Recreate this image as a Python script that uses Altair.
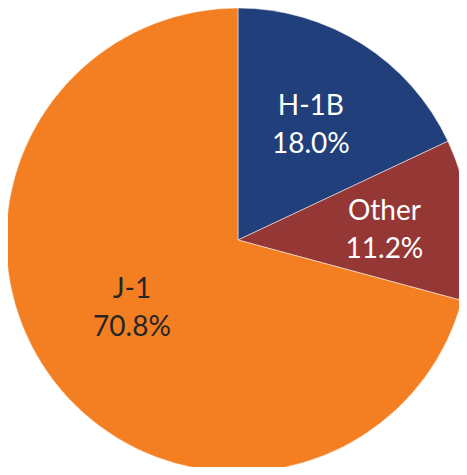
import altair as alt
import pandas as pd

categories = ["H-1B", "Other", "J-1"]
shares = [18.0, 11.2, 70.8]
colors = ["#213F7A", "#953735", "#F37F22"]
text_colors = ["#FFFFFF", "#FFFFFF", "#262626"]

df = pd.DataFrame({
    "visa": categories,
    "share": shares,
    "order": list(range(len(categories))),
})

base = alt.Chart(df).transform_calculate(
    label="datum.visa + '\\n' + format(datum.share, '.1f') + '%'"
).transform_stack(
    stack="share", groupby=[], as_=["s0", "s1"], sort=[alt.SortField("order")]
).transform_calculate(
    theta0="datum.s0 / 100 * 2 * PI",
    theta1="datum.s1 / 100 * 2 * PI",
)

pie = base.mark_arc(stroke="white", strokeWidth=0.5).encode(
    theta=alt.Theta("theta0:Q", scale=None),
    theta2="theta1:Q",
    color=alt.Color("visa:N", scale=alt.Scale(domain=categories, range=colors), legend=None),
    x=alt.value(230),
    y=alt.value(232),
    radius=alt.value(232),
)

def label_layer(name, r, dx, dy):
    return base.transform_filter(alt.datum.visa == name).transform_calculate(
        mid="(datum.theta0 + datum.theta1) / 2"
    ).mark_text(
        font="Lato", fontSize=28, lineBreak="\n", lineHeight=38,
        align="center", baseline="middle", dx=dx, dy=dy,
    ).encode(
        theta=alt.Theta("mid:Q", scale=None),
        text="label:N",
        color=alt.Color("visa:N", scale=alt.Scale(domain=categories, range=text_colors), legend=None),
        x=alt.value(230),
        y=alt.value(232),
        radius=alt.value(r),
    )

labels = [
    label_layer("H-1B", 136, 0, -18),
    label_layer("Other", 147, 0, -15),
    label_layer("J-1", 126, -6, -27),
]

chart = alt.layer(pie, *labels).resolve_scale(color="independent").properties(
    width=451, height=459, padding=0, autosize=alt.AutoSizeParams(type="none")
).configure_view(strokeWidth=0)

chart.save("out.html", embed_options={"renderer": "svg", "actions": False})
